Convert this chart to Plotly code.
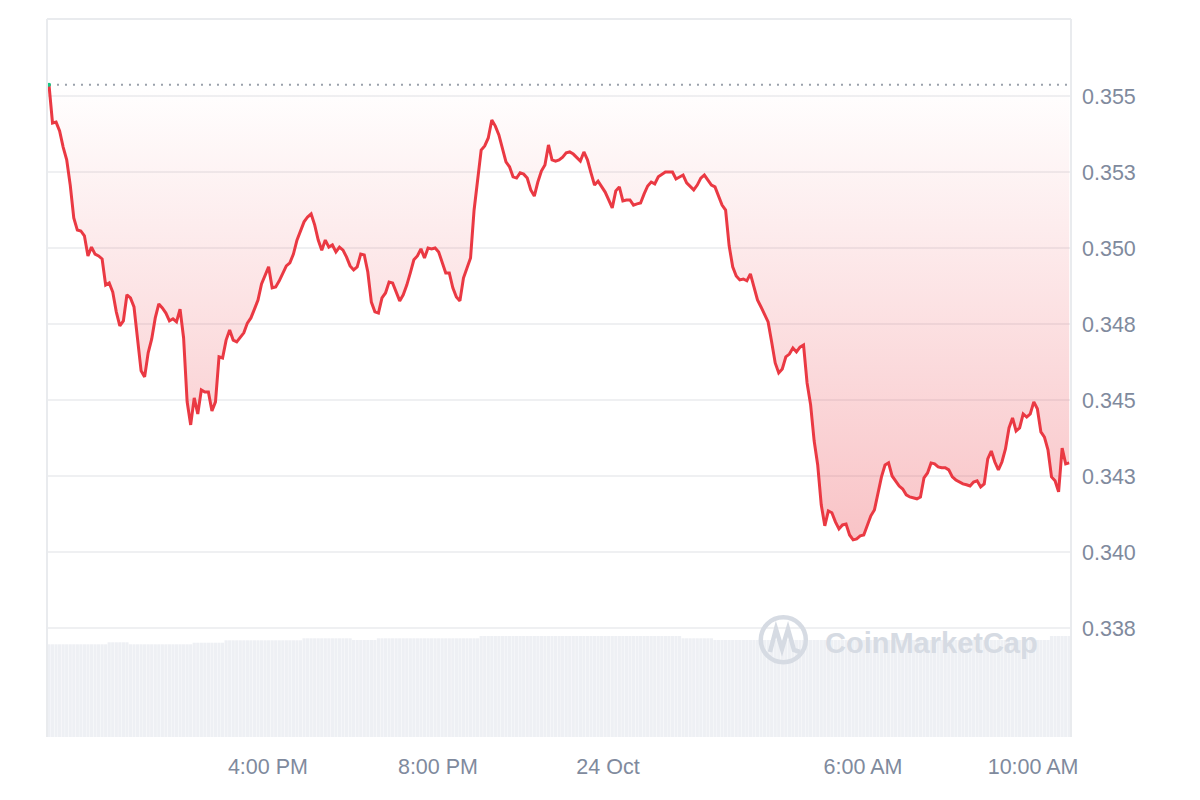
import pandas as pd
import plotly.graph_objects as go

# ---------------- data (5-minute samples, 23 Oct 10:51 -> 24 Oct 10:51) ----------------
start_time = "2024-10-23 10:51"

prices = [
    0.35537, 0.35411, 0.35414, 0.35385, 0.35332, 0.35290, 0.35207, 0.35099, 0.35059, 0.35056,
    0.35040, 0.34974, 0.35003, 0.34980, 0.34974, 0.34964, 0.34878, 0.34885, 0.34855, 0.34790,
    0.34744, 0.34760, 0.34846, 0.34836, 0.34806, 0.34697, 0.34596, 0.34576, 0.34655, 0.34701,
    0.34770, 0.34816, 0.34803, 0.34786, 0.34760, 0.34767, 0.34757, 0.34799, 0.34704, 0.34494,
    0.34418, 0.34507, 0.34454, 0.34533, 0.34526, 0.34526, 0.34464, 0.34494, 0.34642, 0.34638,
    0.34697, 0.34730, 0.34697, 0.34691, 0.34707, 0.34721, 0.34753, 0.34770, 0.34799, 0.34829,
    0.34882, 0.34911, 0.34938, 0.34869, 0.34872, 0.34892, 0.34918, 0.34941, 0.34951, 0.34980,
    0.35026, 0.35059, 0.35086, 0.35102, 0.35112, 0.35076, 0.35026, 0.34993, 0.35026, 0.35003,
    0.35010, 0.34987, 0.35003, 0.34993, 0.34970, 0.34941, 0.34928, 0.34938, 0.34980, 0.34977,
    0.34921, 0.34822, 0.34790, 0.34786, 0.34836, 0.34852, 0.34888, 0.34885, 0.34855, 0.34826,
    0.34846, 0.34878, 0.34918, 0.34961, 0.34974, 0.34997, 0.34967, 0.35000, 0.34997, 0.35000,
    0.34987, 0.34954, 0.34918, 0.34918, 0.34869, 0.34839, 0.34826, 0.34901, 0.34934, 0.34967,
    0.35125, 0.35224, 0.35322, 0.35336, 0.35362, 0.35421, 0.35401, 0.35372, 0.35329, 0.35283,
    0.35267, 0.35234, 0.35230, 0.35247, 0.35243, 0.35230, 0.35191, 0.35171, 0.35217, 0.35253,
    0.35273, 0.35339, 0.35290, 0.35286, 0.35290, 0.35299, 0.35313, 0.35316, 0.35309, 0.35296,
    0.35286, 0.35316, 0.35290, 0.35247, 0.35207, 0.35220, 0.35204, 0.35184, 0.35158, 0.35132,
    0.35188, 0.35201, 0.35155, 0.35158, 0.35158, 0.35141, 0.35145, 0.35148, 0.35178, 0.35204,
    0.35217, 0.35211, 0.35234, 0.35243, 0.35250, 0.35250, 0.35250, 0.35227, 0.35234, 0.35240,
    0.35214, 0.35201, 0.35191, 0.35207, 0.35230, 0.35240, 0.35224, 0.35207, 0.35201, 0.35168,
    0.35141, 0.35125, 0.35007, 0.34938, 0.34908, 0.34895, 0.34898, 0.34892, 0.34915, 0.34872,
    0.34829, 0.34806, 0.34783, 0.34757, 0.34691, 0.34622, 0.34589, 0.34602, 0.34642, 0.34651,
    0.34671, 0.34658, 0.34674, 0.34681, 0.34556, 0.34484, 0.34365, 0.34286, 0.34155, 0.34086,
    0.34135, 0.34129, 0.34099, 0.34076, 0.34089, 0.34092, 0.34056, 0.34040, 0.34043, 0.34053,
    0.34056, 0.34089, 0.34119, 0.34138, 0.34194, 0.34247, 0.34286, 0.34293, 0.34250, 0.34234,
    0.34217, 0.34207, 0.34188, 0.34181, 0.34178, 0.34175, 0.34181, 0.34244, 0.34260, 0.34293,
    0.34290, 0.34280, 0.34277, 0.34277, 0.34270, 0.34247, 0.34237, 0.34230, 0.34224, 0.34221,
    0.34217, 0.34230, 0.34234, 0.34214, 0.34224, 0.34306, 0.34332, 0.34296, 0.34270, 0.34296,
    0.34339, 0.34408, 0.34441, 0.34398, 0.34408, 0.34454, 0.34444, 0.34454, 0.34494, 0.34471,
    0.34395, 0.34378, 0.34336, 0.34247, 0.34234, 0.34198, 0.34342, 0.34290, 0.34293,
]

# relative 24h volume (arbitrary units)
volume = [
    92.7, 92.7, 92.7, 92.7, 92.7, 92.7, 92.7, 92.7, 92.7, 92.7,
    92.7, 92.7, 92.7, 92.7, 92.7, 92.7, 92.7, 94.7, 94.7, 94.7,
    94.7, 94.7, 94.7, 92.7, 92.7, 92.7, 92.7, 92.7, 92.7, 92.7,
    92.7, 92.7, 92.7, 92.7, 92.7, 92.7, 92.7, 92.7, 92.7, 92.7,
    92.7, 94.3, 94.3, 94.3, 94.3, 94.3, 94.3, 94.3, 94.3, 94.3,
    96.7, 96.7, 96.7, 96.7, 96.7, 96.7, 96.7, 96.7, 96.7, 96.7,
    96.7, 96.7, 96.7, 96.7, 96.7, 96.7, 96.7, 96.7, 96.7, 96.7,
    96.7, 96.7, 98.7, 98.7, 98.7, 98.7, 98.7, 98.7, 98.7, 98.7,
    98.7, 98.7, 98.7, 98.7, 98.7, 98.7, 97.0, 97.0, 97.0, 97.0,
    97.0, 97.0, 97.0, 98.7, 98.7, 98.7, 98.7, 98.7, 98.7, 98.7,
    98.7, 98.7, 98.7, 98.7, 98.7, 98.7, 98.7, 98.7, 98.7, 98.7,
    98.7, 98.7, 98.7, 98.7, 98.7, 98.7, 98.7, 98.7, 98.7, 98.7,
    98.7, 98.7, 101.0, 101.0, 101.0, 101.0, 101.0, 101.0, 101.0, 101.0,
    101.0, 101.0, 101.0, 101.0, 101.0, 101.0, 101.0, 101.0, 101.0, 101.0,
    101.0, 101.0, 101.0, 101.0, 101.0, 101.0, 101.0, 101.0, 101.0, 101.0,
    101.0, 101.0, 101.0, 101.0, 101.0, 101.0, 101.0, 101.0, 101.0, 101.0,
    101.0, 101.0, 101.0, 101.0, 101.0, 101.0, 101.0, 101.0, 101.0, 101.0,
    101.0, 101.0, 101.0, 101.0, 101.0, 101.0, 101.0, 101.0, 101.0, 98.7,
    98.7, 98.7, 98.7, 98.7, 98.7, 98.7, 98.7, 98.7, 97.0, 97.0,
    97.0, 97.0, 97.0, 97.0, 97.0, 97.0, 97.0, 97.0, 97.0, 97.0,
    97.0, 97.0, 97.0, 97.0, 97.0, 97.0, 97.0, 97.0, 97.0, 97.0,
    97.0, 97.0, 97.0, 97.0, 97.0, 97.0, 97.0, 97.0, 97.0, 97.0,
    97.0, 97.0, 97.0, 97.0, 97.0, 97.0, 97.0, 97.0, 97.0, 97.0,
    97.0, 97.0, 97.0, 97.0, 97.0, 97.0, 97.0, 97.0, 97.0, 97.0,
    97.0, 97.0, 97.0, 97.0, 97.0, 97.0, 97.0, 97.0, 97.0, 97.0,
    97.0, 97.0, 97.0, 97.0, 97.0, 97.0, 97.0, 97.0, 97.0, 97.0,
    97.0, 97.0, 97.0, 97.0, 97.0, 97.0, 97.0, 97.0, 97.0, 97.0,
    97.0, 97.0, 97.0, 97.0, 97.0, 97.0, 97.0, 97.0, 97.0, 97.0,
    97.0, 97.0, 97.0, 101.0, 101.0, 101.0, 101.0, 101.0, 101.0,
]

price_tick_vals = [0.3375, 0.3400, 0.3425, 0.3450, 0.3475, 0.3500, 0.3525, 0.3550]
price_tick_text = ["0.338", "0.340", "0.343", "0.345", "0.348", "0.350", "0.353", "0.355"]

time_tick_vals = ["2024-10-23 16:00", "2024-10-23 20:00", "2024-10-24 00:00",
                  "2024-10-24 06:00", "2024-10-24 10:00"]
time_tick_text = ["4:00 PM", "8:00 PM", "24 Oct", "6:00 AM", "10:00 AM"]

# ---------------- figure ----------------
times = pd.date_range(pd.Timestamp(start_time), periods=len(prices), freq="5min")
open_price = prices[0]

# page has an 8px body margin, so the figure origin sits at (8, 8) on screen
W, H = 1200, 800
ML, MR, MT, MB = 39, 137, 11, 71
PW, PH = W - ML - MR, H - MT - MB
OFF = 8  # screen offset of the figure

RED = "#ea3943"
GREY_TXT = "#808a9d"
WM = "#d6dbe3"

fig = go.Figure()

fig.add_trace(go.Bar(
    x=times, y=volume, yaxis="y",
    marker=dict(color="#eef0f4", line=dict(width=0)),
    hoverinfo="skip",
))

fig.add_trace(go.Scatter(
    x=times, y=[open_price] * len(times), yaxis="y2", mode="lines",
    line=dict(color="#9aa1ab", width=2, dash="2px,6px"),
    hoverinfo="skip",
))

fig.add_trace(go.Scatter(
    x=times, y=prices, yaxis="y2", mode="lines",
    line=dict(color=RED, width=3),
    fill="tonexty",
    fillgradient=dict(
        type="vertical",
        colorscale=[[0, "rgba(234,57,67,0.30)"], [1, "rgba(234,57,67,0.0)"]],
        start=min(prices), stop=open_price,
    ),
))

fig.add_trace(go.Scatter(
    x=[times[0]], y=[prices[0]], yaxis="y2", mode="markers",
    marker=dict(color="#16c784", size=4),
    hoverinfo="skip",
))


def px(xs, ys):
    """screen pixel -> paper coords"""
    xp, yp = xs - OFF, ys - OFF
    return (xp - ML) / PW, (H - MB - yp) / PH


shapes = []
border = "#e9ebee"
shapes.append(dict(type="line", xref="paper", yref="paper", x0=0, x1=1, y0=1, y1=1,
                   line=dict(color=border, width=2)))
shapes.append(dict(type="line", xref="paper", yref="paper", x0=0, x1=0, y0=0, y1=1,
                   line=dict(color=border, width=2)))
shapes.append(dict(type="line", xref="paper", yref="paper", x0=1, x1=1, y0=0, y1=1,
                   line=dict(color=border, width=2)))

# watermark logo
cx, cy, r = 783.3, 639.7, 22.5
x0, y0 = px(cx - r, cy + r)
x1, y1 = px(cx + r, cy - r)
shapes.append(dict(type="circle", xref="paper", yref="paper", x0=x0, x1=x1, y0=y0, y1=y1,
                   line=dict(color=WM, width=4.5), layer="above"))
pts = [(770, 652), (776, 629), (782, 649), (788, 629), (794, 650), (800, 652)]
path = ""
for i, (a, b) in enumerate(pts):
    u, v = px(a, b)
    path += ("M" if i == 0 else "L") + f"{u:.5f},{v:.5f} "
shapes.append(dict(type="path", xref="paper", yref="paper", path=path,
                   line=dict(color=WM, width=4.5), layer="above"))

ax, ay = px(931, 643)

fig.update_layout(
    width=W, height=H,
    margin=dict(l=ML, r=MR, t=MT, b=MB, pad=0),
    paper_bgcolor="white", plot_bgcolor="white",
    showlegend=False,
    bargap=0.1,
    font=dict(family="Liberation Sans, Arial, sans-serif", color=GREY_TXT),
    xaxis=dict(
        range=[pd.Timestamp(start_time) - pd.Timedelta(minutes=2.8),
               pd.Timestamp(start_time) + pd.Timedelta(minutes=1442.5)],
        showgrid=False, zeroline=False, showline=False, ticks="",
        tickvals=time_tick_vals, ticktext=time_tick_text,
        tickfont=dict(size=21.5, color=GREY_TXT),
        ticklabelstandoff=14,
    ),
    yaxis=dict(range=[0, 718], visible=False, fixedrange=True),
    yaxis2=dict(
        overlaying="y", side="right",
        range=[0.333914, 0.357533],
        tickvals=price_tick_vals, ticktext=price_tick_text,
        showgrid=True, gridcolor="#eff0f2", gridwidth=1.5,
        zeroline=False, showline=False, ticks="",
        tickfont=dict(size=21.5, color=GREY_TXT),
        ticklabelstandoff=10,
    ),
    shapes=shapes,
    annotations=[dict(
        text="<b>CoinMarketCap</b>", xref="paper", yref="paper", x=ax, y=ay,
        xanchor="center", yanchor="middle", showarrow=False,
        font=dict(size=29, color=WM, family="Liberation Sans, Arial, sans-serif"),
    )],
)

fig.write_html("out.html")
